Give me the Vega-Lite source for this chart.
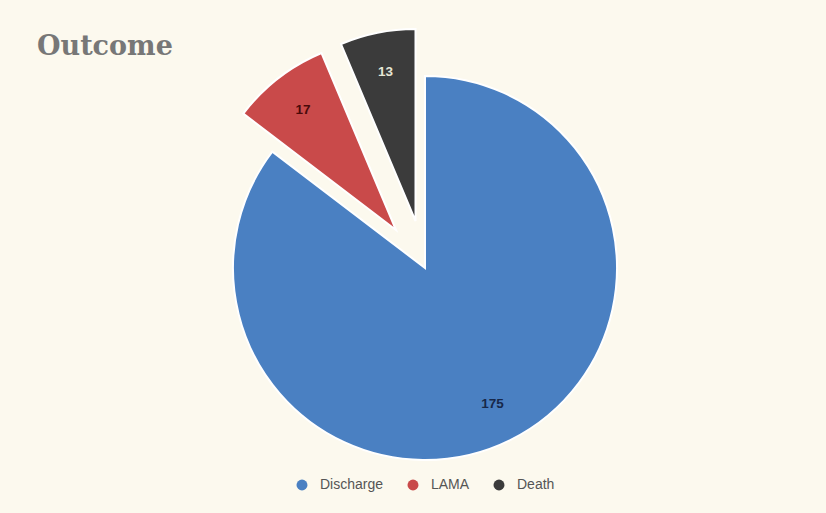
{
  "$schema": "https://vega.github.io/schema/vega-lite/v6.json",
  "autosize": {"type": "none"},
  "width": 776,
  "height": 406,
  "padding": {"left": 37, "top": 65, "right": 13, "bottom": 42},
  "background": "#fcf9ee",
  "title": {
    "text": "Outcome",
    "anchor": "start",
    "font": "DejaVu Serif",
    "fontSize": 27,
    "fontWeight": "bold",
    "color": "#777777",
    "offset": 6,
    "dy": 42
  },
  "config": {
    "view": {"stroke": null},
    "legend": {
      "orient": "none",
      "legendX": 258,
      "legendY": 413,
      "direction": "horizontal",
      "symbolType": "circle",
      "symbolSize": 120,
      "symbolStrokeWidth": 0,
      "labelFontSize": 14,
      "labelFont": "Liberation Sans",
      "labelColor": "#555555",
      "labelOffset": 11,
      "columnPadding": 22,
      "title": null
    }
  },
  "data": {
    "values": [
      {"cat": "Discharge", "value": 175},
      {"cat": "LAMA", "value": 17},
      {"cat": "Death", "value": 13}
    ]
  },
  "encoding": {
    "theta": {"field": "value", "type": "quantitative", "stack": true, "scale": {"domain": [0, 205]}},
    "order": {"field": "value", "type": "quantitative", "sort": "descending"}
  },
  "layer": [
    {
      "mark": {"type": "arc", "radius": 192, "stroke": "#ffffff", "strokeWidth": 2},
      "encoding": {
        "color": {
          "field": "cat", "type": "nominal",
          "scale": {"domain": ["Discharge", "LAMA", "Death"], "range": ["#4a80c2", "#c94a4a", "#3b3b3b"]},
          "legend": {"title": null}
        },
        "opacity": {"condition": {"test": "datum.cat === 'Discharge'", "value": 1}, "value": 0}
      }
    },
    {
      "mark": {"type": "arc", "radius": 192, "stroke": "#ffffff", "strokeWidth": 2, "xOffset": -29, "yOffset": -38},
      "encoding": {
        "color": {"field": "cat", "type": "nominal"},
        "opacity": {"condition": {"test": "datum.cat === 'LAMA'", "value": 1}, "value": 0}
      }
    },
    {
      "mark": {"type": "arc", "radius": 192, "stroke": "#ffffff", "strokeWidth": 2, "xOffset": -9.5, "yOffset": -47},
      "encoding": {
        "color": {"field": "cat", "type": "nominal"},
        "opacity": {"condition": {"test": "datum.cat === 'Death'", "value": 1}, "value": 0}
      }
    },
    {
      "mark": {"type": "text", "radius": 152, "font": "Liberation Sans", "fontSize": 13.5, "fontWeight": "bold", "color": "#17284a"},
      "encoding": {
        "text": {"field": "value", "type": "quantitative"},
        "opacity": {"condition": {"test": "datum.cat === 'Discharge'", "value": 1}, "value": 0}
      }
    },
    {
      "mark": {"type": "text", "radius": 152, "font": "Liberation Sans", "fontSize": 13.5, "fontWeight": "bold", "color": "#4a0a0a", "xOffset": -29, "yOffset": -38},
      "encoding": {
        "text": {"field": "value", "type": "quantitative"},
        "opacity": {"condition": {"test": "datum.cat === 'LAMA'", "value": 1}, "value": 0}
      }
    },
    {
      "mark": {"type": "text", "radius": 152, "font": "Liberation Sans", "fontSize": 13.5, "fontWeight": "bold", "color": "#e6e6d6", "xOffset": -9.5, "yOffset": -47},
      "encoding": {
        "text": {"field": "value", "type": "quantitative"},
        "opacity": {"condition": {"test": "datum.cat === 'Death'", "value": 1}, "value": 0}
      }
    }
  ]
}
